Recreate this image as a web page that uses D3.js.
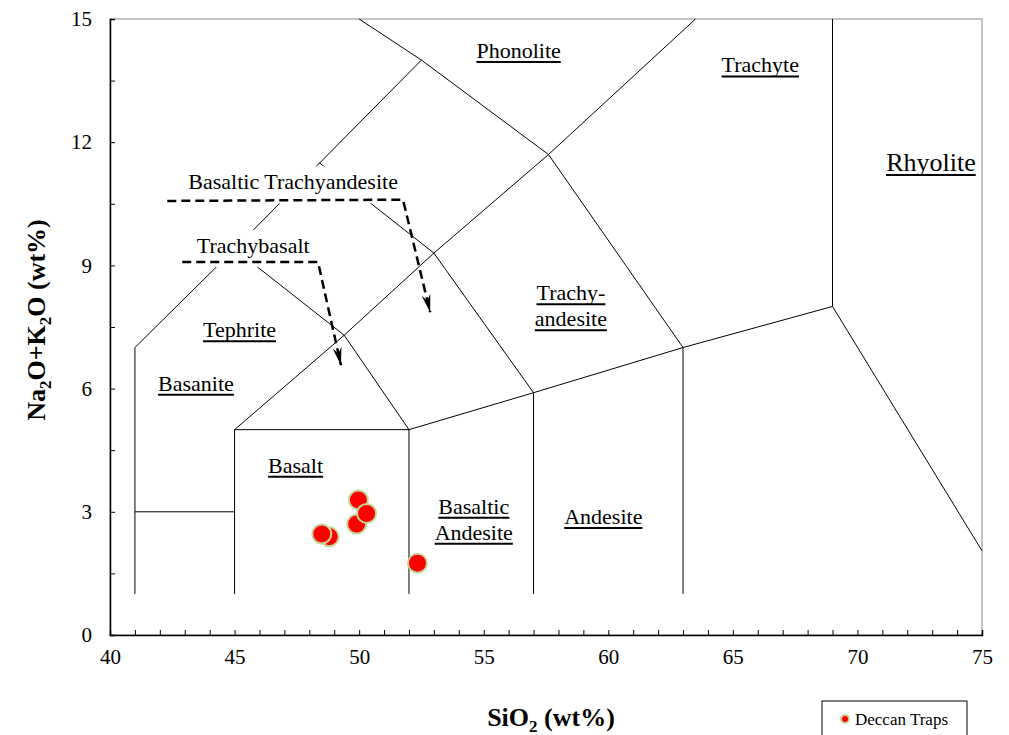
<!DOCTYPE html>
<html>
<head>
<meta charset="utf-8">
<script src="https://cdn.jsdelivr.net/npm/d3@7"></script>
<style>
  body { margin: 0; background: #fff; }
</style>
</head>
<body>
<svg id="chart" width="1009" height="735"></svg>
<script>
// TAS diagram - Deccan Traps

var FONT = "Liberation Serif";

// field boundaries [SiO2, Na2O+K2O]
var boundaries = [
  [[41, 1], [41, 7], [45, 9.4], [52.5, 14], [50, 15]],
  [[41, 3], [45, 3]],
  [[45, 1], [45, 5], [52, 5], [52, 1]],
  [[45, 5], [49.4, 7.3], [53, 9.3], [57.6, 11.7], [63.5, 15]],
  [[45, 9.4], [49.4, 7.3], [52, 5]],
  [[48.4, 11.5], [53, 9.3], [57, 5.9]],
  [[52.5, 14], [57.6, 11.7], [63, 7]],
  [[52, 5], [57, 5.9], [63, 7], [69, 8], [75, 2.05]],
  [[57, 1], [57, 5.9]],
  [[63, 1], [63, 7]],
  [[69, 8], [69, 15]]
];

// dashed pointers
var pointers = [
  [[42.3, 10.57], [51.76, 10.6], [52.85, 7.86]],
  [[42.9, 9.08], [48.35, 9.08], [49.27, 6.57]]
];

// field names
var labelText = ["Phonolite", "Trachyte", "Rhyolite", "Basaltic Trachyandesite", "Trachybasalt",
  "Trachy-|andesite", "Tephrite", "Basanite", "Basalt", "Basaltic|Andesite", "Andesite"];
var labelX = [56.4, 66.1, 72.95, 47.35, 45.75, 58.5, 45.2, 43.45, 47.45, 54.6, 59.8];
var labelY = [14.05, 13.7, 11.3, 10.85, 9.3, 8.15, 7.25, 5.95, 3.95, 2.95, 2.7];
var underlined = [true, true, true, false, false, true, true, true, true, true, true];
var labelSize = [22, 22, 26, 22, 22, 22, 22, 22, 22, 22, 22];

// samples
var sio2 = [48.8, 48.5, 49.97, 49.9, 50.3, 52.34];
var alkali = [2.39, 2.46, 3.29, 2.7, 2.96, 1.75];

var xTicks = [40, 45, 50, 55, 60, 65, 70, 75];
var yTicks = [0, 3, 6, 9, 12, 15];

var svg = d3.select("#chart");
var x = d3.scaleLinear().domain([40, 75]).range([110, 982]);
var y = d3.scaleLinear().domain([0, 15]).range([635, 19]);

// frame
svg.append("rect")
  .attr("x", 110).attr("y", 19).attr("width", 872).attr("height", 616)
  .attr("fill", "none").attr("stroke", "#8a8a8a").attr("stroke-width", 1);

var line = d3.line().x(function(d) { return x(d[0]); }).y(function(d) { return y(d[1]); });

svg.append("g").selectAll("path")
  .data(boundaries)
  .enter().append("path")
  .attr("d", line)
  .attr("fill", "none")
  .attr("stroke", "#000")
  .attr("stroke-width", 1);

// axes
var xAxis = d3.axisBottom(x).tickValues(d3.range(40, 76, 1)).tickSize(-5)
  .tickFormat(function(d) { return xTicks.indexOf(d) >= 0 ? d : ""; }).tickPadding(14);
var yAxis = d3.axisLeft(y).tickValues(d3.range(0, 15.1, 1.5)).tickSize(-5)
  .tickFormat(function(d) { return yTicks.indexOf(d) >= 0 ? d : ""; }).tickPadding(18);

var gx = svg.append("g").attr("transform", "translate(0,635)").call(xAxis);
var gy = svg.append("g").attr("transform", "translate(110,0)").call(yAxis);
[gx, gy].forEach(function(g) {
  g.attr("font-family", FONT).attr("font-size", 21);
  g.select(".domain").attr("stroke", "#000").attr("stroke-width", 1.5);
  g.selectAll(".tick line").attr("stroke", "#000").attr("stroke-width", 1);
  g.selectAll(".tick text").attr("fill", "#000");
});

// labels (some with white boxes covering the lines)
var labels = svg.append("g").attr("font-family", FONT);
labelText.forEach(function(t, i) {
  var parts = t.split("|");
  var g = labels.append("g");
  var txt = g.append("text")
    .attr("text-anchor", "middle")
    .attr("font-size", labelSize[i])
    .attr("fill", "#000");
  parts.forEach(function(p, j) {
    txt.append("tspan")
      .attr("x", x(labelX[i]))
      .attr("y", y(labelY[i]) + j * 26)
      .text(p);
  });
  if (!underlined[i]) {
    var bb = txt.node().getBBox();
    g.insert("rect", "text")
      .attr("x", bb.x - 6).attr("y", bb.y - 3)
      .attr("width", bb.width + 12).attr("height", bb.height + 12)
      .attr("fill", "#fff");
  } else {
    txt.selectAll("tspan").each(function() {
      var b = this.getBBox();
      var by = +d3.select(this).attr("y");
      g.append("line")
        .attr("x1", b.x).attr("x2", b.x + b.width)
        .attr("y1", by + 4).attr("y2", by + 4)
        .attr("stroke", "#000").attr("stroke-width", 2);
    });
  }
});

// pointer arrows
svg.append("defs").append("marker")
  .attr("id", "arrow")
  .attr("markerUnits", "userSpaceOnUse")
  .attr("markerWidth", 24).attr("markerHeight", 14)
  .attr("viewBox", "-20 -7 24 14")
  .attr("refX", 0).attr("refY", 0)
  .attr("orient", "auto")
  .append("path")
  .attr("d", "M0,0 L-18,-4.5 L-12,0 L-18,4.5 Z")
  .attr("fill", "#000");

svg.append("g").selectAll("path")
  .data(pointers)
  .enter().append("path")
  .attr("d", line)
  .attr("fill", "none")
  .attr("stroke", "#000")
  .attr("stroke-width", 2.5)
  .attr("stroke-dasharray", "9,5")
  .attr("marker-end", "url(#arrow)");

// samples
svg.append("g").selectAll("circle")
  .data(sio2)
  .enter().append("circle")
  .attr("cx", function(d) { return x(d); })
  .attr("cy", function(d, i) { return y(alkali[i]); })
  .attr("r", 9.5)
  .attr("fill", "#ff0000")
  .attr("stroke", "#c4d79b")
  .attr("stroke-width", 2);

// axis titles
var xt = svg.append("text")
  .attr("x", 551).attr("y", 726)
  .attr("text-anchor", "middle")
  .attr("font-family", FONT)
  .attr("font-size", 26).attr("font-weight", "bold");
xt.append("tspan").text("SiO");
xt.append("tspan").attr("dy", 6).attr("font-size", 17).text("2");
xt.append("tspan").attr("dy", -6).text(" (wt%)");

var yt = svg.append("text")
  .attr("transform", "translate(45,320) rotate(-90)")
  .attr("text-anchor", "middle")
  .attr("font-family", FONT)
  .attr("font-size", 26).attr("font-weight", "bold");
yt.append("tspan").text("Na");
yt.append("tspan").attr("dy", 6).attr("font-size", 17).text("2");
yt.append("tspan").attr("dy", -6).text("O+K");
yt.append("tspan").attr("dy", 6).attr("font-size", 17).text("2");
yt.append("tspan").attr("dy", -6).text("O (wt%)");

// legend
var legend = svg.append("g");
legend.append("rect")
  .attr("x", 822).attr("y", 701).attr("width", 145).attr("height", 50)
  .attr("fill", "#fff").attr("stroke", "#000").attr("stroke-width", 1);
legend.append("circle")
  .attr("cx", 845).attr("cy", 719).attr("r", 4)
  .attr("fill", "#ff0000").attr("stroke", "#c4d79b").attr("stroke-width", 2);
legend.append("text")
  .attr("x", 855).attr("y", 725)
  .attr("font-family", FONT)
  .attr("font-size", 17)
  .text("Deccan Traps");
</script>
</body>
</html>
